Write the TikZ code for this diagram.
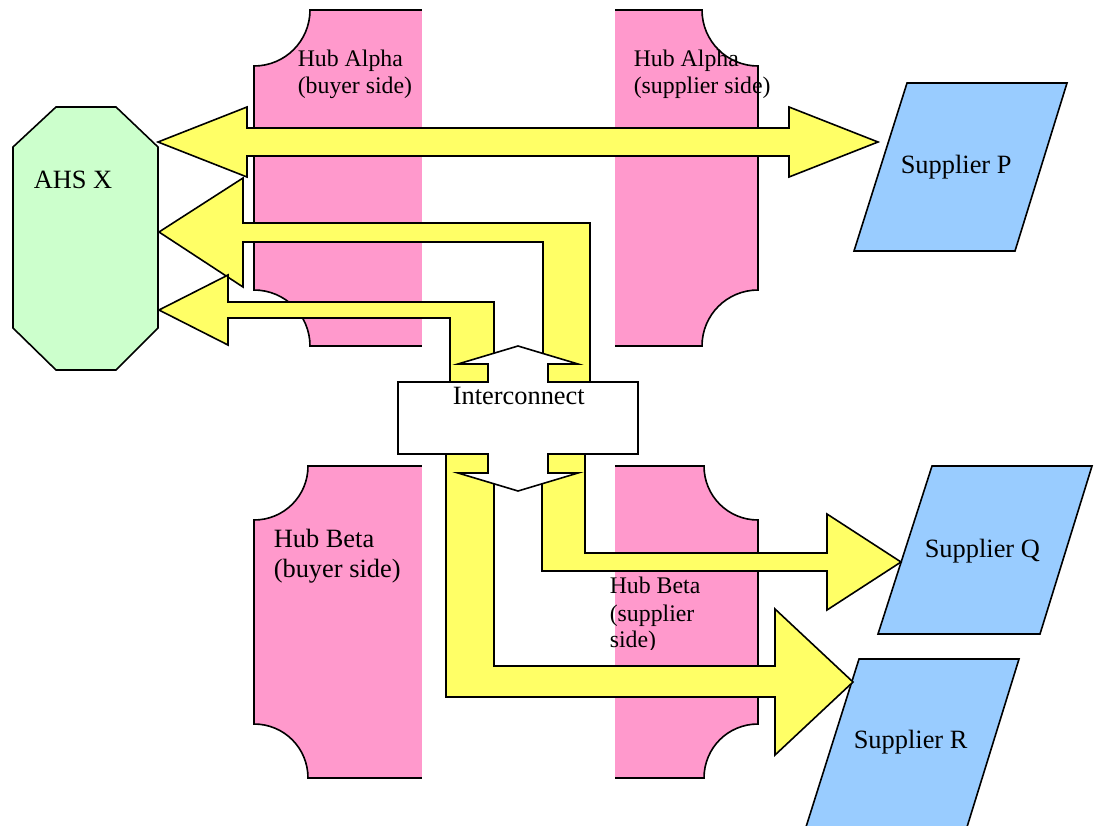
\documentclass[tikz,border=0pt]{standalone}
\usepackage{fontspec}
\setmainfont{Liberation Serif}
\definecolor{hubpink}{HTML}{FF99CC}
\definecolor{bandyellow}{HTML}{FFFF66}
\definecolor{supblue}{HTML}{99CCFF}
\definecolor{ahsgreen}{HTML}{CCFFCC}
\begin{document}
\begin{tikzpicture}[x=1pt,y=-1pt,line width=1.6pt,line join=miter]
\tikzset{
  hub/.style={fill=hubpink,draw=black},
  gap/.style={fill=white,draw=none},
  band/.style={fill=bandyellow,draw=black},
  sup/.style={fill=supblue,draw=black},
  ahs/.style={fill=ahsgreen,draw=black},
  callout/.style={fill=white,draw=black},
  lbl/.style={anchor=base west,inner sep=0pt,font=\fontsize{26.4}{30}\selectfont},
  smalllbl/.style={lbl,font=\fontsize{23.8}{27}\selectfont}
}
\useasboundingbox (0,0) rectangle (1097,825);
\clip (0,0) rectangle (1097,825);

% Hub Alpha plaque
\draw[hub] (310,10) -- (702,10) .. controls (702,41) and (727,66) .. (758,66)
  -- (758,290) .. controls (727,290) and (702,315) .. (702,346)
  -- (310,346) .. controls (310,315) and (285,290) .. (254,290)
  -- (254,66) .. controls (285,66) and (310,41) .. (310,10) -- cycle;
% Hub Beta plaque
\draw[hub] (308,466) -- (704,466) .. controls (704,496) and (728,520) .. (758,520)
  -- (758,724) .. controls (728,724) and (704,748) .. (704,778)
  -- (308,778) .. controls (308,748) and (284,724) .. (254,724)
  -- (254,520) .. controls (284,520) and (308,496) .. (308,466) -- cycle;
% gap between buyer and supplier sides
\fill[gap] (422,0) rectangle (615,825);

% AHS X
\draw[ahs] (56,107) -- (116,107) -- (158,147) -- (158,328) -- (116,370)
  -- (56,370) -- (13,328) -- (13,147) -- cycle;

% Suppliers
\draw[sup] (907,83) -- (1067,83) -- (1015,251) -- (854,251) -- cycle;
\draw[sup] (932,466) -- (1092,466) -- (1040,634) -- (878,634) -- cycle;
\draw[sup] (859,659) -- (1019,659) -- (967,827) -- (806,827) -- cycle;

% Arrow AHS X <-> Supplier P
\draw[band] (158,142) -- (247,107) -- (247,128) -- (789,128) -- (789,107)
  -- (878,142) -- (789,177) -- (789,156) -- (247,156) -- (247,177) -- cycle;
% Arrow Interconnect -> AHS X (upper)
\draw[band] (159,232) -- (243,178) -- (243,223) -- (590,223) -- (590,420)
  -- (543,420) -- (543,242) -- (243,242) -- (243,287) -- cycle;
% Arrow Interconnect -> AHS X (lower)
\draw[band] (159,310) -- (228,275) -- (228,302) -- (494,302) -- (494,420)
  -- (450,420) -- (450,318) -- (228,318) -- (228,345) -- cycle;
% Arrow Interconnect -> Supplier Q
\draw[band] (542,420) -- (585,420) -- (585,553) -- (827,553) -- (827,514)
  -- (901,562) -- (827,610) -- (827,571) -- (542,571) -- cycle;
% Arrow Interconnect -> Supplier R
\draw[band] (446,420) -- (494,420) -- (494,666) -- (775,666) -- (775,609)
  -- (853,682) -- (775,755) -- (775,697) -- (446,697) -- cycle;

% Interconnect callout
\draw[callout] (398,382) -- (488,382) -- (488,364) -- (458,364) -- (518,346)
  -- (578,364) -- (548,364) -- (548,382) -- (638,382) -- (638,454)
  -- (548,454) -- (548,473) -- (578,473) -- (518,491) -- (458,473)
  -- (488,473) -- (488,454) -- (398,454) -- cycle;

% Labels
\node[lbl] (ahsx) at (33,188) {AHS X};
\node[smalllbl] (haB1) at (297,66) {Hub Alpha};
\node[smalllbl] (haB2) at (297,93) {(buyer side)};
\node[smalllbl] (haS1) at (633,66) {Hub Alpha};
\node[smalllbl] (haS2) at (633,93) {(supplier side)};
\node[lbl] (hbB1) at (273,547) {Hub Beta};
\node[lbl] (hbB2) at (273,577) {(buyer side)};
\begin{scope}
\clip (600,560) rectangle (760,649);
\node[smalllbl] (hbS1) at (609,593) {Hub Beta};
\node[smalllbl] (hbS2) at (609,621) {(supplier};
\node[smalllbl] (hbS3) at (609,647) {side)};
\end{scope}
\node[lbl] (ic) at (452,404) {Interconnect};
\node[lbl] (supP) at (900,173) {Supplier P};
\node[lbl] (supQ) at (924,557) {Supplier Q};
\node[lbl] (supR) at (853,748) {Supplier R};
\end{tikzpicture}
\end{document}
